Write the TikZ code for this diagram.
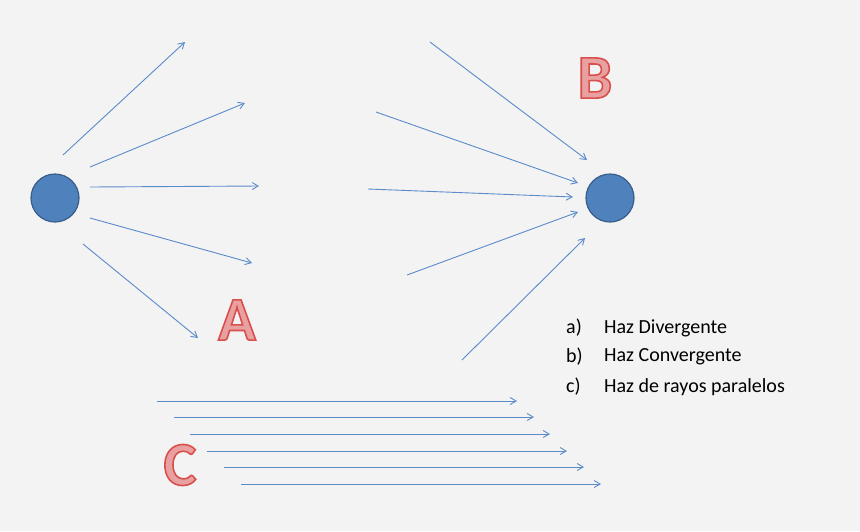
\documentclass[tikz,border=0pt]{standalone}
\usetikzlibrary{arrows.meta}
\usepackage{fontspec}
\setmainfont{Carlito}
\usepackage{xcolor}
\definecolor{bg}{HTML}{F3F3F3}
\definecolor{ray}{HTML}{5B8BCB}
\definecolor{dotf}{HTML}{4F81BD}
\definecolor{dotd}{HTML}{385D8A}
\definecolor{letf}{HTML}{E8A0A0}
\newcommand{\outl}[1]{\special{pdf:literal direct 2 Tr 1.6 w 0.85 0.31 0.30 RG}#1\special{pdf:literal direct 0 Tr}}
\begin{document}
\begin{tikzpicture}[x=1pt,y=-1pt,
  rayarrow/.style={ray,line width=0.9pt,-{Straight Barb[length=6pt,width=7pt]}},
  dot/.style={circle,fill=dotf,draw=dotd,line width=1.2pt,minimum size=48pt,inner sep=0pt},
  bigletter/.style={text=letf,font=\bfseries\fontsize{62}{62}\selectfont,inner sep=0pt},
  lst/.style={font=\fontsize{20}{24}\selectfont,anchor=west,inner sep=0pt}]
\useasboundingbox[fill=bg] (0,0) rectangle (860,531);
\node[dot] (ca) at (55,198) {};
\node[dot] (cb) at (610,198) {};
% A
\foreach \i/\sx/\sy/\ex/\ey in {1/63/155/185/42,2/90/167/245/103,3/90/187/259/186,4/90/218/252/263,5/83/244/198/338}{
  \coordinate (as\i) at (\sx,\sy); \coordinate (ae\i) at (\ex,\ey);
  \draw[rayarrow] (as\i) -- (ae\i);}
% B
\foreach \i/\sx/\sy/\ex/\ey in {1/430/42/587/160,2/376/112/578/183,3/368/189/573/197,4/407/275/578/212,5/462/360/585/238}{
  \coordinate (bs\i) at (\sx,\sy); \coordinate (be\i) at (\ex,\ey);
  \draw[rayarrow] (bs\i) -- (be\i);}
% C
\foreach \i/\sx/\y in {1/157/401,2/174/417,3/190/434,4/207/451,5/224/467,6/241/484}{
  \coordinate (cs\i) at (\sx,\y); \coordinate (ce\i) at (\sx+360,\y);
  \draw[rayarrow] (cs\i) -- (ce\i);}
\node[bigletter] (la) at (237,320) {\outl{A}};
\node[bigletter] (lb) at (595,78) {\outl{B}};
\node[bigletter] (lc) at (180,465) {\outl{C}};
\node[lst] (a1) at (566,328) {a)};
\node[lst] (a2) at (604,328) {Haz Divergente};
\node[lst] (b1) at (566,357) {b)};
\node[lst] (b2) at (604,357) {Haz Convergente};
\node[lst] (c1) at (566,387) {c)};
\node[lst] (c2) at (604,387) {Haz de rayos paralelos};
\end{tikzpicture}
\end{document}
